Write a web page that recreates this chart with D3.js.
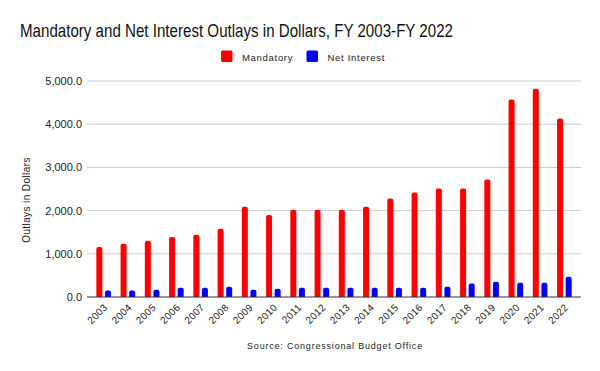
<!DOCTYPE html>
<html>
<head>
<meta charset="utf-8">
<script src="https://cdn.jsdelivr.net/npm/d3@7"></script>
<style>
  body { margin: 0; background: #fff; }
  text { font-family: "Liberation Sans", Arial, sans-serif; }
</style>
</head>
<body>
<script>
var years = ["2003","2004","2005","2006","2007","2008","2009","2010","2011","2012",
  "2013","2014","2015","2016","2017","2018","2019","2020","2021","2022"];
var mandatory = [1160, 1230, 1300, 1390, 1440, 1580, 2090, 1900, 2020, 2020,
  2020, 2090, 2280, 2420, 2510, 2510, 2720, 4570, 4820, 4130];
var netInterest = [150, 150, 170, 215, 215, 240, 170, 192, 215, 215,
  215, 215, 215, 215, 238, 310, 354, 331, 331, 470];
var seriesNames = ["Mandatory", "Net Interest"];
var seriesColors = ["#ff0000", "#0000ff"];
var yTicks = [0, 1000, 2000, 3000, 4000, 5000];

var width = 600, height = 371;
var plotLeft = 87, plotRight = 581, plotTop = 81, plotBottom = 297;

var svg = d3.select("body").append("svg")
  .attr("width", width)
  .attr("height", height);

var x = d3.scaleBand()
  .domain(years)
  .range([91.5, 576.5]);

var xInner = d3.scaleBand()
  .domain(seriesNames)
  .range([x.bandwidth()/2 - 7.3, x.bandwidth()/2 + 7.3])
  .paddingInner(0.3);

var y = d3.scaleLinear()
  .domain([0, 5000])
  .range([plotBottom, plotTop]);

// title
svg.append("text")
  .attr("x", 20)
  .attr("y", 36.7)
  .attr("font-size", 19)
  .attr("font-family", "'Liberation Sans Narrow', 'Liberation Sans', sans-serif")
  .attr("textLength", 433)
  .attr("lengthAdjust", "spacingAndGlyphs")
  .attr("fill", "#111")
  .text("Mandatory and Net Interest Outlays in Dollars, FY 2003-FY 2022");

// legend
var legendX = [221, 306.5];
seriesNames.forEach(function(name, i) {
  svg.append("rect")
    .attr("x", legendX[i])
    .attr("y", 50.5)
    .attr("width", 11.5)
    .attr("height", 11.5)
    .attr("rx", 1.5)
    .attr("fill", seriesColors[i]);
  svg.append("text")
    .attr("x", legendX[i] + 21)
    .attr("y", 60.7)
    .attr("font-size", 9.5)
    .attr("letter-spacing", 0.7)
    .attr("fill", "#222")
    .text(name);
});

// gridlines
svg.append("g")
  .selectAll("line")
  .data(yTicks.slice(1))
  .join("line")
  .attr("x1", plotLeft)
  .attr("x2", plotRight)
  .attr("y1", d => y(d))
  .attr("y2", d => y(d))
  .attr("stroke", "#cccccc")
  .attr("stroke-width", 1);

// y axis labels
var fmt = d3.format(",.1f");
svg.append("g")
  .selectAll("text")
  .data(yTicks)
  .join("text")
  .attr("x", 82)
  .attr("y", d => y(d) + 4)
  .attr("text-anchor", "end")
  .attr("font-size", 11)
  .attr("fill", "#222")
  .text(d => fmt(d));

svg.append("text")
  .attr("transform", "translate(30,200) rotate(-90)")
  .attr("text-anchor", "middle")
  .attr("font-size", 10)
  .attr("letter-spacing", 0.4)
  .attr("fill", "#222")
  .text("Outlays in Dollars");

// bars with rounded tops
function barPath(x0, w, yTop, yBase) {
  var r = Math.min(2, w / 2, (yBase - yTop) / 2);
  return "M" + x0 + "," + yBase +
    "V" + (yTop + r) +
    "Q" + x0 + "," + yTop + " " + (x0 + r) + "," + yTop +
    "H" + (x0 + w - r) +
    "Q" + (x0 + w) + "," + yTop + " " + (x0 + w) + "," + (yTop + r) +
    "V" + yBase + "Z";
}

var seriesData = [mandatory, netInterest];
seriesData.forEach(function(vals, si) {
  svg.append("g")
    .selectAll("path")
    .data(vals)
    .join("path")
    .attr("fill", seriesColors[si])
    .attr("d", function(d, i) {
      var x0 = x(years[i]) + xInner(seriesNames[si]);
      return barPath(x0, xInner.bandwidth(), y(d), y(0));
    });
});

// x axis line
svg.append("line")
  .attr("x1", plotLeft)
  .attr("x2", plotRight)
  .attr("y1", y(0))
  .attr("y2", y(0))
  .attr("stroke", "#333")
  .attr("stroke-width", 1);

// x labels
svg.append("g")
  .selectAll("text")
  .data(years)
  .join("text")
  .attr("transform", d => "translate(" + (x(d) + x.bandwidth()/2 + 4.5) + ",308) rotate(-45)")
  .attr("text-anchor", "end")
  .attr("font-size", 10)
  .attr("letter-spacing", 0.3)
  .attr("fill", "#222")
  .text(d => d);

// source
svg.append("text")
  .attr("x", 335)
  .attr("y", 348.5)
  .attr("text-anchor", "middle")
  .attr("font-size", 9)
  .attr("letter-spacing", 0.8)
  .attr("fill", "#222")
  .text("Source: Congressional Budget Office");
</script>
</body>
</html>
